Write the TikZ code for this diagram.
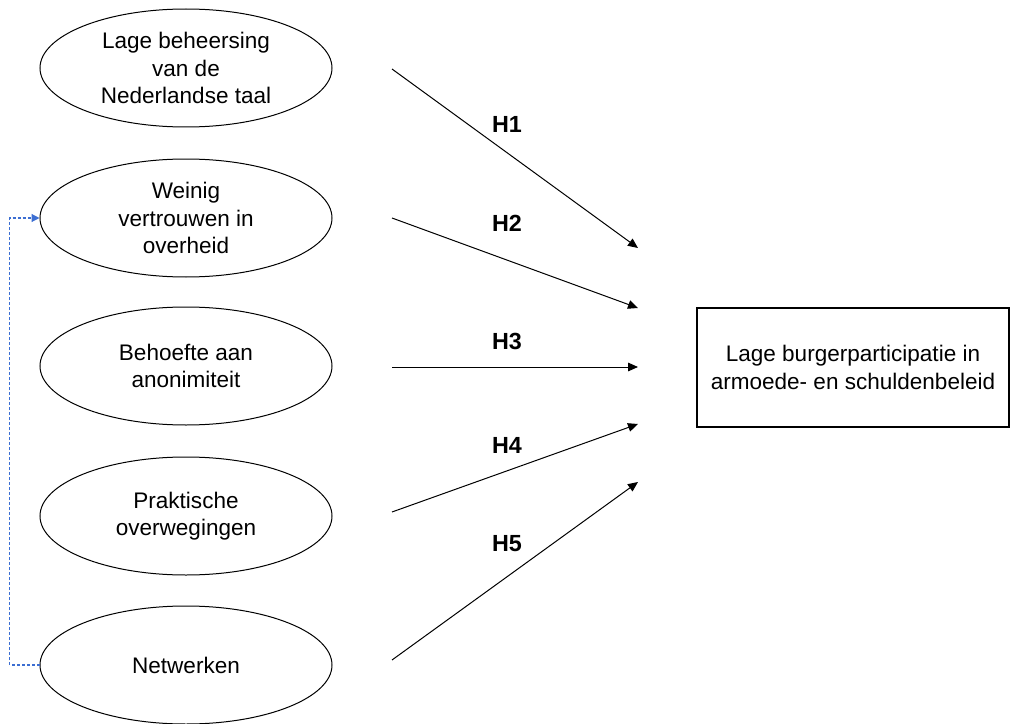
\documentclass[tikz,border=0pt]{standalone}
\usepackage{fontspec}
\setmainfont{Liberation Sans}
\usetikzlibrary{shapes.geometric,arrows.meta}

\begin{document}
\begin{tikzpicture}[x=0.75pt,y=0.75pt,yscale=-1,xscale=1,
  factor/.style={draw,ellipse,line width=0.75pt,minimum width=219pt,minimum height=88.5pt,inner sep=0pt,align=center,font=\fontsize{16.9}{20.6}\selectfont},
  outcome/.style={draw,rectangle,line width=1.1pt,minimum width=234pt,minimum height=89pt,align=center,font=\fontsize{16.9}{20.6}\selectfont},
  hyp/.style={font=\bfseries\fontsize{17.5}{21}\selectfont},
  effect/.style={line width=0.75pt,-{Triangle[length=7.5pt,width=6.5pt]}},
  link/.style={color={rgb, 255:red, 60; green, 110; blue, 210 },line width=0.9pt,dash pattern={on 2.25pt off 1.5pt},-{Triangle[length=6pt,width=6pt]}}]
\useasboundingbox (0,0) rectangle (1011,724);

%Shape: Ellipse
\node [factor] (taal) at (186,68) {Lage beheersing\\van de\\Nederlandse taal};
%Shape: Ellipse
\node [factor] (vertrouwen) at (186,218) {Weinig\\vertrouwen in\\overheid};
%Shape: Ellipse
\node [factor] (anoniem) at (186,366) {Behoefte aan\\anonimiteit};
%Shape: Ellipse
\node [factor] (praktisch) at (186,516) {Praktische\\overwegingen};
%Shape: Ellipse
\node [factor] (netwerk) at (186,665) {Netwerken};
%Shape: Rectangle
\node [outcome] (participatie) at (853,367.5) {Lage burgerparticipatie in\\armoede- en schuldenbeleid};

\coordinate (s1) at (392,69);
\coordinate (e1) at (638,248);
\coordinate (s2) at (392,218);
\coordinate (e2) at (638,308);
\coordinate (s3) at (392,367);
\coordinate (e3) at (638,367);
\coordinate (s4) at (392,512);
\coordinate (e4) at (638,424);
\coordinate (s5) at (392,660);
\coordinate (e5) at (638,482);

%Straight Lines
\draw [effect] (s1) -- (e1) ;
%Straight Lines
\draw [effect] (s2) -- (e2) ;
%Straight Lines
\draw [effect] (s3) -- (e3) ;
%Straight Lines
\draw [effect] (s4) -- (e4) ;
%Straight Lines
\draw [effect] (s5) -- (e5) ;

\node [hyp] (h1) at (507,124) {H1};
\node [hyp] (h2) at (507,223) {H2};
\node [hyp] (h3) at (507,341) {H3};
\node [hyp] (h4) at (507,445) {H4};
\node [hyp] (h5) at (507,544) {H5};

%Connector
\draw [link] (netwerk.west) -- ++(-30,0) |- (vertrouwen.west) ;
\end{tikzpicture}
\end{document}
